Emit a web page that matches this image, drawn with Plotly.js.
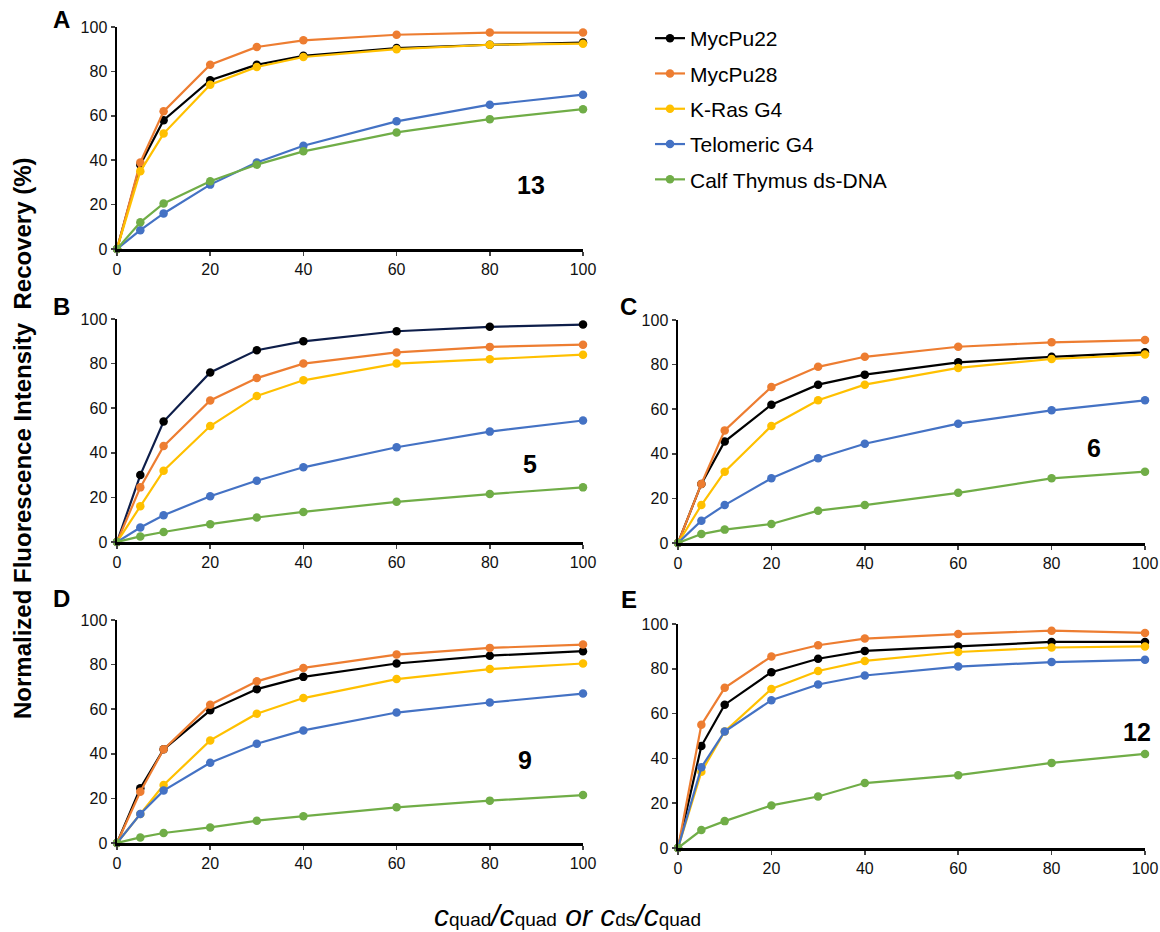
<!DOCTYPE html>
<html>
<head>
<meta charset="utf-8">
<script src="https://cdn.plot.ly/plotly-3.0.1.min.js"></script>
<style>body{margin:0;padding:0;background:#fff;} #chart{width:1160px;height:932px;}</style>
</head>
<body>
<div id="chart"></div>
<script>
// ratio c_quad/c_quad or c_ds/c_quad
const ratios = [0, 5, 10, 20, 30, 40, 60, 80, 100];
const seriesNames = ["MycPu22", "MycPu28", "K-Ras G4", "Telomeric G4", "Calf Thymus ds-DNA"];
const panelLetters = ["A", "B", "C", "D", "E"];
const compoundLabels = ["13", "5", "6", "9", "12"];

// Panel A (compound 13)
const A_MycPu22   = [0, 38, 58, 76, 83, 87, 90.5, 92, 93];
const A_MycPu28   = [0, 39, 62, 83, 91, 94, 96.5, 97.5, 97.5];
const A_KRas      = [0, 35, 52, 74, 82, 86.5, 90, 92, 92.5];
const A_Telomeric = [0, 8.5, 16, 29, 39, 46.5, 57.5, 65, 69.5];
const A_CalfThy   = [0, 12, 20.5, 30.5, 38, 44, 52.5, 58.5, 63];

// Panel B (compound 5)
const B_MycPu22   = [0, 30, 54, 76, 86, 90, 94.5, 96.5, 97.5];
const B_MycPu28   = [0, 24.5, 43, 63.5, 73.5, 80, 85, 87.5, 88.5];
const B_KRas      = [0, 16, 32, 52, 65.5, 72.5, 80, 82, 84];
const B_Telomeric = [0, 6.5, 12, 20.5, 27.5, 33.5, 42.5, 49.5, 54.5];
const B_CalfThy   = [0, 2.5, 4.5, 8, 11, 13.5, 18, 21.5, 24.5];

// Panel C (compound 6)
const C_MycPu22   = [0, 26.5, 45.5, 62, 71, 75.5, 81, 83.5, 85.5];
const C_MycPu28   = [0, 26.5, 50.5, 70, 79, 83.5, 88, 90, 91];
const C_KRas      = [0, 17, 32, 52.5, 64, 71, 78.5, 82.5, 84.5];
const C_Telomeric = [0, 10, 17, 29, 38, 44.5, 53.5, 59.5, 64];
const C_CalfThy   = [0, 4, 6, 8.5, 14.5, 17, 22.5, 29, 32];

// Panel D (compound 9)
const D_MycPu22   = [0, 24.5, 42, 59.5, 69, 74.5, 80.5, 84, 86];
const D_MycPu28   = [0, 23, 42, 62, 72.5, 78.5, 84.5, 87.5, 89];
const D_KRas      = [0, 13, 26, 46, 58, 65, 73.5, 78, 80.5];
const D_Telomeric = [0, 13, 23.5, 36, 44.5, 50.5, 58.5, 63, 67];
const D_CalfThy   = [0, 2.5, 4.5, 7, 10, 12, 16, 19, 21.5];

// Panel E (compound 12)
const E_MycPu22   = [0, 45.5, 64, 78.5, 84.5, 88, 90, 92, 92];
const E_MycPu28   = [0, 55, 71.5, 85.5, 90.5, 93.5, 95.5, 97, 96];
const E_KRas      = [0, 34, 52, 71, 79, 83.5, 87.5, 89.5, 90];
const E_Telomeric = [0, 36, 52, 66, 73, 77, 81, 83, 84];
const E_CalfThy   = [0, 8, 12, 19, 23, 29, 32.5, 38, 42];

const xTickVals = [0, 20, 40, 60, 80, 100];
const yTickVals = [0, 20, 40, 60, 80, 100];

const panels = [
  [A_MycPu22, A_MycPu28, A_KRas, A_Telomeric, A_CalfThy],
  [B_MycPu22, B_MycPu28, B_KRas, B_Telomeric, B_CalfThy],
  [C_MycPu22, C_MycPu28, C_KRas, C_Telomeric, C_CalfThy],
  [D_MycPu22, D_MycPu28, D_KRas, D_Telomeric, D_CalfThy],
  [E_MycPu22, E_MycPu28, E_KRas, E_Telomeric, E_CalfThy]
];

const colors = ["#000000", "#ED7D31", "#FFC000", "#4472C4", "#70AD47"];
const W = 1160, H = 932;
// pixel boxes [left, right, top, bottom]
const boxes = [
  [117, 583, 27, 249],
  [117, 583, 319, 542],
  [678, 1145, 320, 543],
  [117, 583, 620, 843],
  [678, 1145, 624, 848]
];
const letterPos = [[61, 19], [61, 306], [629, 307], [61, 598], [629, 599]];
const compPos = [[531, 185], [530, 464], [1094, 448], [525, 760], [1137, 732]];

const traces = [];
const layout = {
  width: W, height: H,
  margin: {l: 0, r: 0, t: 0, b: 0},
  paper_bgcolor: "#fff", plot_bgcolor: "rgba(0,0,0,0)",
  font: {family: "Liberation Sans, Arial, sans-serif", color: "#000", size: 15},
  showlegend: true,
  legend: {
    x: 650 / W, y: 1 - 18 / H, xanchor: "left", yanchor: "top",
    font: {size: 21, color: "#000"}, tracegroupgap: 5,
    bgcolor: "rgba(0,0,0,0)"
  },
  annotations: []
};

panels.forEach((series, p) => {
  const ax = p === 0 ? "" : String(p + 1);
  const b = boxes[p];
  layout["xaxis" + ax] = {
    domain: [b[0] / W, b[1] / W], anchor: "y" + ax,
    range: [0, 100], tickvals: xTickVals, ticks: "outside", ticklen: 4, tickwidth: 1.5,
    showline: true, linecolor: "#000", linewidth: 2.5, showgrid: false, zeroline: false,
    tickfont: {size: 16, color: "#111"}, fixedrange: true
  };
  layout["yaxis" + ax] = {
    domain: [1 - b[3] / H, 1 - b[2] / H], anchor: "x" + ax,
    range: [0, 100], tickvals: yTickVals, ticks: "outside", ticklen: 4, tickwidth: 1.5,
    showline: true, linecolor: "#000", linewidth: 2.5, showgrid: false, zeroline: false,
    tickfont: {size: 16, color: "#111"}, fixedrange: true
  };
  series.forEach((vals, s) => {
    let lineColor = colors[s];
    if (p === 1 && s === 0) lineColor = "#0E1E4A";
    traces.push({
      type: "scatter", mode: "lines+markers",
      x: ratios, y: vals, name: seriesNames[s],
      xaxis: "x" + ax, yaxis: "y" + ax,
      line: {color: lineColor, width: 2.2},
      marker: {color: colors[s], size: 8.5},
      cliponaxis: false,
      legendgroup: seriesNames[s],
      showlegend: p === 0
    });
  });
  layout.annotations.push({
    xref: "paper", yref: "paper", x: letterPos[p][0] / W, y: 1 - letterPos[p][1] / H,
    text: "<b>" + panelLetters[p] + "</b>", showarrow: false, font: {size: 24, color: "#000"},
    xanchor: "center", yanchor: "middle"
  });
  layout.annotations.push({
    xref: "paper", yref: "paper", x: compPos[p][0] / W, y: 1 - compPos[p][1] / H,
    text: "<b>" + compoundLabels[p] + "</b>", showarrow: false, font: {size: 25, color: "#000"},
    xanchor: "center", yanchor: "middle"
  });
});

layout.annotations.push({
  xref: "paper", yref: "paper", x: 22 / W, y: 1 - 438 / H,
  text: "<b>Normalized Fluorescence Intensity  Recovery (%)</b>", textangle: -90,
  showarrow: false, font: {size: 24, color: "#000"}, xanchor: "center", yanchor: "middle"
});
layout.annotations.push({
  xref: "paper", yref: "paper", x: 567 / W, y: 1 - 915 / H,
  text: "<i>c</i><span style='font-size:19px'>quad</span><i>/c</i><span style='font-size:19px'>quad</span> <i>or</i> <i>c</i><span style='font-size:19px'>ds</span><i>/c</i><span style='font-size:19px'>quad</span>",
  showarrow: false, font: {size: 30, color: "#000"}, xanchor: "center", yanchor: "middle"
});

Plotly.newPlot("chart", traces, layout, {displayModeBar: false, staticPlot: true});
</script>
</body>
</html>
